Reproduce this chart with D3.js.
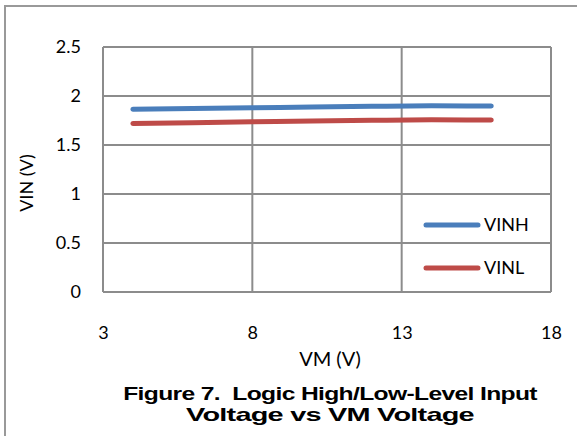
<!DOCTYPE html>
<html><head><meta charset="utf-8">
<script src="https://cdn.jsdelivr.net/npm/d3@7"></script>
<style>
html,body{margin:0;padding:0;background:#fff;}
svg{display:block;}
</style></head>
<body>
<svg id="chart" width="577" height="436"></svg>
<script>
const vm = [4, 6, 8, 10, 12, 14, 16];
const vinh = [1.865, 1.872, 1.880, 1.888, 1.895, 1.900, 1.898];
const vinl = [1.720, 1.728, 1.737, 1.745, 1.752, 1.757, 1.755];
const seriesNames = ["VINH", "VINL"];
const xTicks = [3, 8, 13, 18];
const yTicks = [0, 0.5, 1, 1.5, 2, 2.5];
const xTitle = "VM (V)";
const yTitle = "VIN (V)";
const captionLines = ["Figure 7.  Logic High/Low-Level Input", "Voltage vs VM Voltage"];
const captionWidths = [414, 288];

const colors = ["#4a7ebb", "#be4b48"];
const svg = d3.select("#chart");
const font = "Lato, 'Open Sans', sans-serif";
const fs = 18;

svg.append("path").attr("d", "M5,436 V6 H577")
  .attr("fill", "none").attr("stroke", "#999").attr("stroke-width", 2);

const L = 103, R = 551, T = 47, B = 292;
const x = d3.scaleLinear().domain([3, 18]).range([L, R]);
const y = d3.scaleLinear().domain([0, 2.5]).range([B, T]);

const g = svg.append("g");
g.selectAll(".vg").data(xTicks).enter().append("line")
  .attr("x1", d => x(d)).attr("x2", d => x(d)).attr("y1", T).attr("y2", B)
  .attr("stroke", "#8c8c8c").attr("stroke-width", 2);
g.selectAll(".hg").data(yTicks).enter().append("line")
  .attr("x1", L).attr("x2", R).attr("y1", d => y(d)).attr("y2", d => y(d))
  .attr("stroke", "#8c8c8c").attr("stroke-width", 2);

const xAxis = d3.axisBottom(x).tickValues(xTicks).tickSize(0).tickPadding(0).tickFormat(d3.format("d"));
const xa = svg.append("g").attr("transform", `translate(0,${B + 41})`).call(xAxis);
xa.select(".domain").remove();
xa.selectAll("text").attr("font-family", font).attr("font-size", fs).attr("fill", "#000").attr("dy", "0.35em").attr("y", 0);

const yAxis = d3.axisLeft(y).tickValues(yTicks).tickSize(0).tickPadding(0).tickFormat(d => String(d));
const ya = svg.append("g").attr("transform", `translate(81,0)`).call(yAxis);
ya.select(".domain").remove();
ya.selectAll("text").attr("font-family", font).attr("font-size", fs).attr("fill", "#000").attr("x", 0);

svg.append("text").attr("x", 330).attr("y", 359).attr("dy", "0.35em")
  .attr("text-anchor", "middle").attr("font-family", font).attr("font-size", 20).text(xTitle);
svg.append("text").attr("transform", "translate(27,183) rotate(-90)").attr("dy", "0.35em")
  .attr("text-anchor", "middle").attr("font-family", font).attr("font-size", fs).text(yTitle);

const data = [vinh, vinl];
const line = d3.line().x((d, i) => x(vm[i])).y(d => y(d)).curve(d3.curveMonotoneX);
data.forEach((s, k) => {
  svg.append("path").datum(s).attr("d", line)
    .attr("fill", "none").attr("stroke", colors[k]).attr("stroke-width", 5)
    .attr("stroke-linecap", "round");
});

const legY = [225, 268];
seriesNames.forEach((n, k) => {
  svg.append("line").attr("x1", 426).attr("x2", 478).attr("y1", legY[k]).attr("y2", legY[k])
    .attr("stroke", colors[k]).attr("stroke-width", 5).attr("stroke-linecap", "round");
  svg.append("text").attr("x", 484).attr("y", legY[k]).attr("dy", "0.35em")
    .attr("font-family", font).attr("font-size", fs).text(n);
});

captionLines.forEach((t, i) => {
  const cy = 393 + i * 21;
  const tx = svg.append("text").attr("x", 0).attr("y", 0).attr("dy", "0.35em")
    .attr("text-anchor", "middle").attr("font-family", "'Liberation Sans', Arial, sans-serif")
    .attr("font-weight", "bold").attr("font-size", 19).attr("letter-spacing", "-0.5")
    .style("white-space", "pre")
    .text(t);
  const w = tx.node().getComputedTextLength();
  const sx = captionWidths[i] / w;
  tx.attr("transform", `translate(330,${cy}) scale(${sx},1)`);
});
</script>
</body></html>
